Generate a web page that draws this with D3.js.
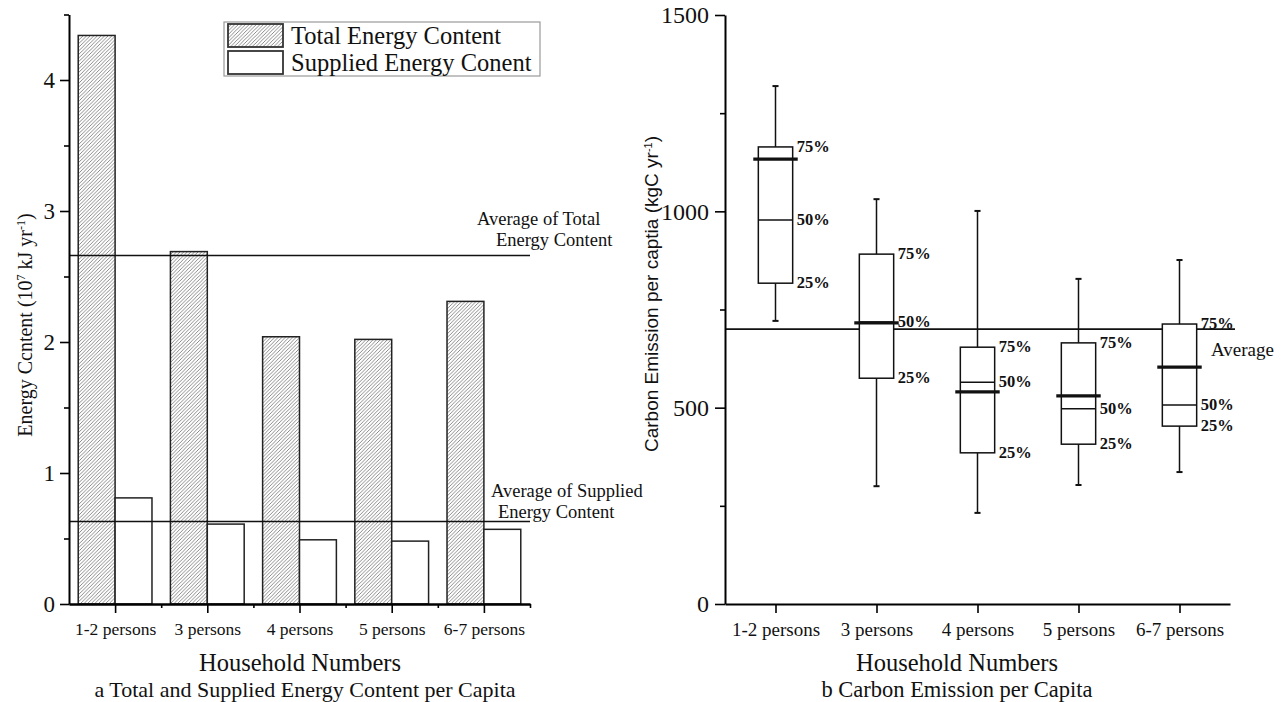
<!DOCTYPE html>
<html>
<head>
<meta charset="utf-8">
<script src="https://cdn.jsdelivr.net/npm/d3@7"></script>
<style>
  body { margin: 0; background: #fff; }
  svg text { font-family: "Liberation Serif", "Times New Roman", serif; fill: #111; }
</style>
</head>
<body>
<div id="chart"></div>
<script>
// categories shared by both panels
const categories = ["1-2 persons", "3 persons", "4 persons", "5 persons", "6-7 persons"];

// panel a: energy content (10^7 kJ/yr)
const totalEnergy = [4.34, 2.69, 2.04, 2.02, 2.31];
const suppliedEnergy = [0.81, 0.61, 0.49, 0.48, 0.57];
const avgTotalEnergy = 2.66;
const avgSuppliedEnergy = 0.63;
const energySeries = ["Total Energy Content", "Supplied Energy Conent"];
const energyTicks = [0, 1, 2, 3, 4];

// panel b: carbon emission per capita (kgC/yr)
const whiskerHigh = [1319, 1031, 1001, 828, 876];
const q3 = [1164, 891, 654, 665, 713];
const median = [978, 718, 565, 497, 507];
const mean = [1133, 716, 540, 530, 603];
const q1 = [817, 575, 385, 407, 453];
const whiskerLow = [721, 300, 232, 303, 336];
const avgCarbon = 700;
const carbonTicks = [0, 500, 1000, 1500];

const W = 1281, H = 702;
const svg = d3.select("#chart").append("svg")
    .attr("width", W)
    .attr("height", H);

// hatch pattern for the total energy bars
const hs = 3.6;
svg.append("defs").append("pattern")
    .attr("id", "hatch")
    .attr("patternUnits", "userSpaceOnUse")
    .attr("width", hs)
    .attr("height", hs)
    .call(p => p.append("rect").attr("width", hs).attr("height", hs).attr("fill", "#fff"))
    .call(p => p.append("path")
        .attr("d", `M-1,1 L1,-1 M0,${hs} L${hs},0 M${hs - 1},${hs + 1} L${hs + 1},${hs - 1}`)
        .attr("stroke", "#6e6e6e")
        .attr("stroke-width", 0.8));

// ---------- panel a ----------
const xA = d3.scaleLinear().domain([0.5, 5.5]).range([69, 530]);
const yA = d3.scaleLinear().domain([0, 4.5]).range([604, 14.5]);
const barW = 0.4;

const gA = svg.append("g");

// total bars (left of group centre)
gA.selectAll(".total")
    .data(totalEnergy)
    .join("rect")
    .attr("class", "total")
    .attr("x", (d, i) => xA(i + 1 - barW))
    .attr("y", d => yA(d))
    .attr("width", (d, i) => xA(i + 1) - xA(i + 1 - barW))
    .attr("height", d => yA(0) - yA(d))
    .attr("fill", "url(#hatch)")
    .attr("stroke", "#222")
    .attr("stroke-width", 1.5);

// supplied bars (right of group centre)
gA.selectAll(".supplied")
    .data(suppliedEnergy)
    .join("rect")
    .attr("class", "supplied")
    .attr("x", (d, i) => xA(i + 1))
    .attr("y", d => yA(d))
    .attr("width", (d, i) => xA(i + 1 + barW) - xA(i + 1))
    .attr("height", d => yA(0) - yA(d))
    .attr("fill", "#fff")
    .attr("stroke", "#222")
    .attr("stroke-width", 1.5);

// average lines
[avgTotalEnergy, avgSuppliedEnergy].forEach(v => {
    gA.append("line")
        .attr("x1", xA(0.5)).attr("x2", xA(5.5))
        .attr("y1", yA(v)).attr("y2", yA(v))
        .attr("stroke", "#111")
        .attr("stroke-width", 1.6);
});

// y axis
gA.append("g")
    .attr("transform", `translate(${xA(0.5)},0)`)
    .call(d3.axisLeft(yA).tickValues(d3.range(0.5, 4.6, 1)).tickSize(5).tickSizeOuter(0).tickFormat(""))
    .call(g => g.select(".domain").remove());
gA.append("g")
    .attr("transform", `translate(${xA(0.5)},0)`)
    .call(d3.axisLeft(yA).tickValues(energyTicks).tickSize(9).tickPadding(5).tickSizeOuter(0).tickFormat(d3.format("d")))
    .call(g => g.selectAll("text").style("font-size", "23px").attr("font-family", "Liberation Serif"));

// x axis
gA.append("g")
    .attr("transform", `translate(0,${yA(0)})`)
    .call(d3.axisBottom(xA).tickValues(d3.range(1.5, 5.6, 1)).tickSize(4).tickSizeOuter(0).tickFormat(""));
gA.append("g")
    .attr("transform", `translate(0,${yA(0)})`)
    .call(d3.axisBottom(xA).tickValues([1, 2, 3, 4, 5]).tickSize(9).tickPadding(10).tickSizeOuter(0)
        .tickFormat(d => categories[d - 1]))
    .call(g => g.selectAll("text").style("font-size", "17.5px").attr("font-family", "Liberation Serif"));

gA.selectAll(".domain").attr("stroke-width", 2);
gA.selectAll(".tick line").attr("stroke-width", 1.6);

// annotations
gA.append("text").attr("x", 477).attr("y", 225).style("font-size", "18.5px").text("Average of Total");
gA.append("text").attr("x", 496).attr("y", 246).style("font-size", "18.5px").text("Energy Content");
gA.append("text").attr("x", 491).attr("y", 497).style("font-size", "18.5px").text("Average of Supplied");
gA.append("text").attr("x", 498).attr("y", 518).style("font-size", "18.5px").text("Energy Content");

// legend
const legA = gA.append("g").attr("transform", "translate(224,22)");
legA.append("rect")
    .attr("width", 316).attr("height", 54)
    .attr("fill", "#fff").attr("stroke", "#9a9a9a").attr("stroke-width", 1.2);
const legItem = legA.selectAll(".leg")
    .data(energySeries)
    .join("g")
    .attr("class", "leg")
    .attr("transform", (d, i) => `translate(4,${2 + i * 27})`);
legItem.append("rect")
    .attr("width", 55).attr("height", 23)
    .attr("fill", (d, i) => i === 0 ? "url(#hatch)" : "#fff")
    .attr("stroke", "#333").attr("stroke-width", 1.8);
legItem.append("text")
    .attr("x", 63).attr("y", 20)
    .style("font-size", "24.5px")
    .text(d => d);

// y label
gA.append("text")
    .attr("transform", "translate(32,325) rotate(-90)")
    .attr("text-anchor", "middle")
    .style("font-size", "20px")
    .call(t => {
        t.append("tspan").text("Energy Ccntent (10");
        t.append("tspan").attr("baseline-shift", "super").style("font-size", "12px").text("7");
        t.append("tspan").text(" kJ yr");
        t.append("tspan").attr("baseline-shift", "super").style("font-size", "12px").text("-1");
        t.append("tspan").text(")");
    });

gA.append("text").attr("x", 300).attr("y", 671).attr("text-anchor", "middle")
    .style("font-size", "24.5px").text("Household Numbers");
gA.append("text").attr("x", 305).attr("y", 697).attr("text-anchor", "middle")
    .style("font-size", "22px").text("a Total and Supplied Energy Content per Capita");

// ---------- panel b ----------
const xB = d3.scaleLinear().domain([0.5, 5.5]).range([725, 1230]);
const yB = d3.scaleLinear().domain([0, 1500]).range([604, 15]);
const boxHalf = 0.17, meanHalf = 0.22, capHalf = 0.03;

const gB = svg.append("g");

// average line
gB.append("line")
    .attr("x1", xB(0.5)).attr("x2", 1235)
    .attr("y1", yB(avgCarbon)).attr("y2", yB(avgCarbon))
    .attr("stroke", "#111").attr("stroke-width", 1.6);
gB.append("text").attr("x", 1211).attr("y", yB(avgCarbon) + 27)
    .style("font-size", "19px").text("Average");

const boxes = categories.map((c, i) => ({
    i: i + 1,
    hi: whiskerHigh[i], q3: q3[i], med: median[i], mean: mean[i], q1: q1[i], lo: whiskerLow[i]
}));

const bx = gB.selectAll(".box")
    .data(boxes)
    .join("g")
    .attr("class", "box");

// whiskers
bx.append("line")
    .attr("x1", d => xB(d.i)).attr("x2", d => xB(d.i))
    .attr("y1", d => yB(d.hi)).attr("y2", d => yB(d.lo))
    .attr("stroke", "#111").attr("stroke-width", 1.5);
["hi", "lo"].forEach(k => {
    bx.append("line")
        .attr("x1", d => xB(d.i - capHalf)).attr("x2", d => xB(d.i + capHalf))
        .attr("y1", d => yB(d[k])).attr("y2", d => yB(d[k]))
        .attr("stroke", "#111").attr("stroke-width", 2);
});
// box
bx.append("rect")
    .attr("x", d => xB(d.i - boxHalf))
    .attr("y", d => yB(d.q3))
    .attr("width", d => xB(d.i + boxHalf) - xB(d.i - boxHalf))
    .attr("height", d => yB(d.q1) - yB(d.q3))
    .attr("fill", "#fff").attr("stroke", "#111").attr("stroke-width", 1.5);
// median
bx.append("line")
    .attr("x1", d => xB(d.i - boxHalf)).attr("x2", d => xB(d.i + boxHalf))
    .attr("y1", d => yB(d.med)).attr("y2", d => yB(d.med))
    .attr("stroke", "#111").attr("stroke-width", 1.5);
// mean
bx.append("line")
    .attr("x1", d => xB(d.i - meanHalf)).attr("x2", d => xB(d.i + meanHalf))
    .attr("y1", d => yB(d.mean)).attr("y2", d => yB(d.mean))
    .attr("stroke", "#111").attr("stroke-width", 3.2);
// percentile labels
[["q3", "75%"], ["med", "50%"], ["q1", "25%"]].forEach(([k, lab]) => {
    bx.append("text")
        .attr("x", d => xB(d.i + boxHalf) + 4)
        .attr("y", d => yB(d[k]) + 5)
        .style("font-size", "16.5px")
        .style("font-weight", "bold")
        .text(lab);
});

// axes
gB.append("g")
    .attr("transform", `translate(${xB(0.5)},0)`)
    .call(d3.axisLeft(yB).tickValues([250, 750, 1250]).tickSize(5).tickSizeOuter(0).tickFormat(""))
    .call(g => g.select(".domain").remove());
gB.append("g")
    .attr("transform", `translate(${xB(0.5)},0)`)
    .call(d3.axisLeft(yB).tickValues(carbonTicks).tickSize(10).tickPadding(6).tickSizeOuter(0).tickFormat(d3.format("d")))
    .call(g => g.selectAll("text").style("font-size", "24px").attr("font-family", "Liberation Serif"));
gB.append("g")
    .attr("transform", `translate(0,${yB(0)})`)
    .call(d3.axisBottom(xB).tickValues([1, 2, 3, 4, 5]).tickSize(9).tickPadding(10).tickSizeOuter(0)
        .tickFormat(d => categories[d - 1]))
    .call(g => g.selectAll("text").style("font-size", "19px").attr("font-family", "Liberation Serif"));
gB.selectAll(".domain").attr("stroke-width", 2);
gB.selectAll(".tick line").attr("stroke-width", 1.6);

// y label (sans)
gB.append("text")
    .attr("transform", "translate(658,294) rotate(-90)")
    .attr("text-anchor", "middle")
    .style("font-size", "19px")
    .style("font-family", "Liberation Sans, Arial, sans-serif")
    .call(t => {
        t.append("tspan").text("Carbon Emission per captia (kgC yr");
        t.append("tspan").attr("baseline-shift", "super").style("font-size", "11px").text("-1");
        t.append("tspan").text(")");
    });

gB.append("text").attr("x", 957).attr("y", 671).attr("text-anchor", "middle")
    .style("font-size", "24.5px").text("Household Numbers");
gB.append("text").attr("x", 957).attr("y", 697).attr("text-anchor", "middle")
    .style("font-size", "22.5px").text("b Carbon Emission per Capita");
</script>
</body>
</html>
